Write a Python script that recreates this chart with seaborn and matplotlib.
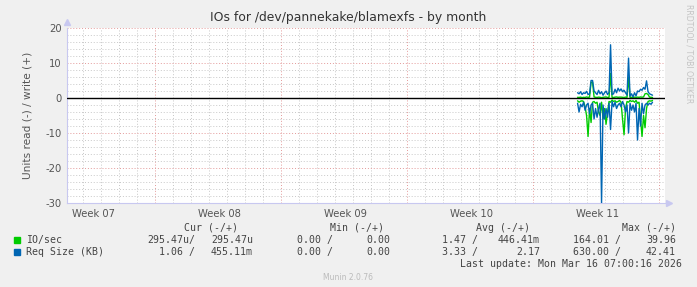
import numpy as np
import pandas as pd
import matplotlib
matplotlib.use("Agg")
import matplotlib.pyplot as plt
import seaborn as sns

# ---- data (2-hour samples, time measured in days from left edge of graph) ----
start_day = 28.44
step_days = 2 / 24

io_write = [0.2, 0.15, 0.25, 0.1, 0.2, 0.15, 0.3, 0.2, 0.25, 4.5, 4.5,
            0.3, 0.2, 0.15, 0.25, 0.2, 0.1, 0.2, 0.25, 0.3, 0.15, 0.2, 7.0,
            0.2, 0.15, 0.25, 0.3, 0.2, 0.25, 0.25, 0.2, 0.15, 0.25, 0.2, 6.0,
            0.15, 0.2, 0.1, 0.25, 0.2, 0.25, 0.2, 0.3, 0.25, 0.3,
            1.2, 1.3, 1.0, 0.25, 0.2, 0.15]
io_read = [0.8, 1.2, 0.9, 0.8, 1.0, 2.5, 5.0, 11.0, 3.0, 7.0, 1.2,
           1.0, 1.5, 1.2, 4.0, 5.0, 1.2, 6.0, 3.0, 7.5, 4.0, 1.0, 1.2,
           0.6, 1.0, 0.8, 1.2, 1.0, 0.7, 1.2, 6.0, 10.5, 3.0, 1.0, 1.2,
           0.7, 1.0, 0.8, 1.2, 0.7, 1.5, 1.2, 6.0, 11.0, 5.0,
           8.5, 3.0, 1.0, 0.8, 0.9, 0.7]
req_write = [1.5, 1.2, 1.8, 1.0, 1.5, 1.3, 1.9, 1.0, 1.2, 5.0, 5.0,
             2.0, 1.5, 1.0, 2.2, 1.2, 1.8, 0.8, 1.5, 2.0, 1.0, 1.6, 15.2,
             1.0, 1.2, 2.5, 1.5, 2.8, 2.0, 2.6, 1.8, 2.2, 1.5, 0.8, 11.4,
             0.5, 1.2, 0.3, 1.5, 0.6, 2.0, 1.8, 2.5, 2.2, 3.0,
             2.5, 4.9, 1.8, 1.2, 1.0, 0.8]
req_read = [1.5, 4.0, 1.8, 2.5, 1.2, 3.5, 2.0, 1.5, 4.5, 2.0, 1.5,
            6.0, 3.0, 5.5, 3.0, 1.5, 30.0, 2.0, 6.0, 3.0, 5.5, 1.5, 9.0,
            1.0, 2.5, 1.2, 3.0, 2.0, 1.5, 2.5, 1.0, 2.0, 4.0, 2.0, 10.0,
            1.5, 3.5, 2.0, 4.0, 1.5, 12.0, 3.0, 8.0, 1.5, 4.5,
            2.0, 1.5, 2.0, 1.5, 1.8, 1.2]

week_labels = ["Week 07", "Week 08", "Week 09", "Week 10", "Week 11"]
week_label_days = [1.55, 8.55, 15.55, 22.55, 29.55]
week_line_days = [4.94, 11.94, 18.94, 25.94, 32.94]
y_ticks = [-30, -20, -10, 0, 10, 20]

series_names = ["IO/sec", "Req Size (KB)"]
series_colors = ["#00CC00", "#0066B3"]
cur_vals = [("295.47u/", "295.47u"), ("1.06 /", "455.11m")]
min_vals = [("0.00 /", "0.00"), ("0.00 /", "0.00")]
avg_vals = [("1.47 /", "446.41m"), ("3.33 /", "2.17")]
max_vals = [("164.01 /", "39.96"), ("630.00 /", "42.41")]

# ---- build frame ----
n = len(io_write)
x = [start_day + i * step_days for i in range(n)]
df = pd.DataFrame({
    "x": x * 4,
    "v": list(io_write) + [-v for v in io_read] + list(req_write) + [-v for v in req_read],
    "s": ["io_w"] * n + ["io_r"] * n + ["rq_w"] * n + ["rq_r"] * n,
})

sns.set_theme(style="white")
plt.rcParams["font.family"] = ["DejaVu Sans"]

W, H = 697, 287
fig = plt.figure(figsize=(W / 100, H / 100), dpi=100, facecolor="#F0F0F0")
L, R, T, B = 67, 665, 28, 203
ax = fig.add_axes([L / W, 1 - B / H, (R - L) / W, (B - T) / H], facecolor="white")

xmin, xmax = 0.06, 33.3
ymin, ymax = -30, 20
ax.set_xlim(xmin, xmax)
ax.set_ylim(ymin, ymax)

minor_c = "#C8C8C8"
major_c = "#E49A9A"
# grid
for d in range(1, 34):
    if any(abs(d - 0.06 - w) < 0.2 for w in week_line_days):
        continue
    ax.axvline(d - 0.06, color=minor_c, lw=0.7, ls=(0, (1, 2)), zorder=0)
for w in week_line_days:
    ax.axvline(w, color=major_c, lw=0.7, ls=(0, (1, 2)), zorder=0)
for yv in range(-28, 21, 2):
    if yv % 10 == 0:
        if yv != 0:
            ax.axhline(yv, color=major_c, lw=0.7, ls=(0, (1, 2)), zorder=0)
    else:
        ax.axhline(yv, color=minor_c, lw=0.7, ls=(0, (1, 2)), zorder=0)

# data
for key, col in [("io_w", "#00CC00"), ("io_r", "#00CC00"), ("rq_w", "#0066B3"), ("rq_r", "#0066B3")]:
    sns.lineplot(data=df[df["s"] == key], x="x", y="v", color=col, lw=1.0,
                 estimator=None, sort=False, ax=ax, zorder=3)

ax.axhline(0, color="black", lw=1.0, zorder=4)

# axes styling
for sp in ["top", "right"]:
    ax.spines[sp].set_visible(False)
for sp in ["left", "bottom"]:
    ax.spines[sp].set_color("#C8C8F0")
    ax.spines[sp].set_linewidth(0.8)
ax.plot([0], [1.035], marker="^", ms=4, color="#C8C8F0", transform=ax.transAxes, clip_on=False)
ax.plot([1.006], [0], marker=">", ms=4, color="#C8C8F0", transform=ax.transAxes, clip_on=False)

ax.set_xticks(week_label_days)
ax.set_xticklabels(week_labels)
ax.set_yticks(y_ticks)
ax.set_yticklabels([str(t) for t in y_ticks])
ax.tick_params(axis="both", length=0, labelsize=7.2, colors="#555555", pad=4)
ax.set_xlabel("")
ax.set_ylabel("Units read (-) / write (+)", fontsize=7.6, color="#555555", labelpad=9)

fig.text(348 / W, 1 - 18 / H, "IOs for /dev/pannekake/blamexfs - by month",
         ha="center", va="center", fontsize=8.9, color="#333333")
fig.text(689 / W, 1 - 54 / H, "RRDTOOL / TOBI OETIKER", rotation=270,
         ha="center", va="center", fontsize=5.6, color="#C4C4C4")

# legend / stats block
mono = "DejaVu Sans Mono"
fs = 7.1
tc = "#444444"
def ty(py):
    return 1 - py / H

for txt, xr in zip(["Cur (-/+)", "Min (-/+)", "Avg (-/+)", "Max (-/+)"], [238, 384, 530, 676]):
    fig.text(xr / W, ty(228), txt, ha="right", va="center", family=mono, fontsize=fs, color=tc)

rows_y = [240, 252]
for k in range(2):
    yy = rows_y[k]
    fig.patches.append(plt.Rectangle((14 / W, ty(yy + 3)), 6 / W, 6 / H,
                                     transform=fig.transFigure, color=series_colors[k]))
    fig.text(26 / W, ty(yy), series_names[k], ha="left", va="center", family=mono, fontsize=fs, color=tc)
    cols = [(cur_vals[k], 195, 253), (min_vals[k], 333, 390),
            (avg_vals[k], 478, 540), (max_vals[k], 621, 676)]
    for (a, b), xa, xb in cols:
        fig.text(xa / W, ty(yy), a, ha="right", va="center", family=mono, fontsize=fs, color=tc)
        fig.text(xb / W, ty(yy), b, ha="right", va="center", family=mono, fontsize=fs, color=tc)

fig.text(682 / W, ty(264), "Last update: Mon Mar 16 07:00:16 2026", ha="right", va="center",
         family=mono, fontsize=fs, color=tc)
fig.text(348 / W, ty(277), "Munin 2.0.76", ha="center", va="center", fontsize=5.5, color="#BBBBBB")

fig.savefig("out.png", dpi=100, facecolor=fig.get_facecolor())
